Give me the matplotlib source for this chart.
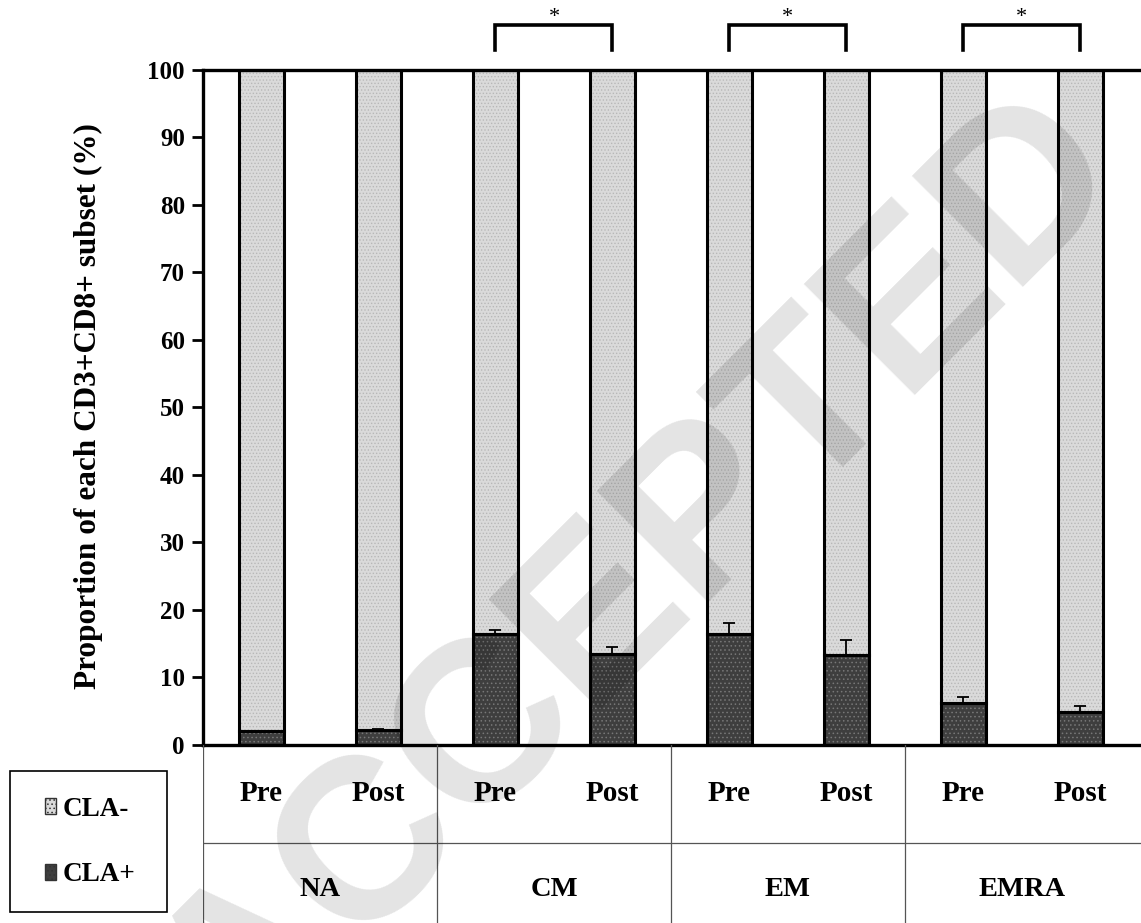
import numpy as np
import matplotlib
matplotlib.use("Agg")
import matplotlib.pyplot as plt
from matplotlib.patches import Patch, Rectangle

plt.rcParams['font.family'] = ['Liberation Serif', 'DejaVu Serif']
plt.rcParams['font.weight'] = 'bold'
plt.rcParams['hatch.linewidth'] = 0.6

groups = ['NA', 'CM', 'EM', 'EMRA']
timepoints = ['Pre', 'Post']
cla_pos = [2.1, 2.2, 16.4, 13.5, 16.4, 13.3, 6.2, 4.9]
cla_pos_err = [0.0, 0.2, 0.6, 1.0, 1.6, 2.2, 0.9, 0.9]
cla_neg = [100 - v for v in cla_pos]
sig_groups = ['CM', 'EM', 'EMRA']
yticks = list(range(0, 101, 10))

LIGHT = '#dadada'
DARK = '#3e3e3e'

fig = plt.figure(figsize=(11.41, 9.23), dpi=100)
ax = fig.add_axes([0.1779, 0.1929, 0.8203, 0.7313])
x = np.arange(len(cla_pos))
w = 0.39

# fills
ax.bar(x, cla_pos, w, color=DARK, linewidth=0, zorder=2)
ax.bar(x, cla_neg, w, bottom=cla_pos, color=LIGHT, linewidth=0, zorder=2)
# dotted texture
ax.bar(x, cla_pos, w, fill=False, hatch='....', edgecolor='#777777', linewidth=0, zorder=2.5)
ax.bar(x, cla_neg, w, bottom=cla_pos, fill=False, hatch='.....', edgecolor='#b8b8b8', linewidth=0, zorder=2.5)
# outlines
ax.bar(x, cla_pos, w, fill=False, edgecolor='black', linewidth=2.2, zorder=3)
ax.bar(x, cla_neg, w, bottom=cla_pos, fill=False, edgecolor='black', linewidth=2.2, zorder=3)

ax.errorbar(x, cla_pos, yerr=[np.zeros(len(x)), cla_pos_err], fmt='none',
            ecolor='black', elinewidth=1.3, capsize=4.5, capthick=1.3, zorder=4)

ax.set_xlim(-0.5, len(x) - 0.5)
ax.set_ylim(0, 100)
ax.set_yticks(yticks)
ax.set_yticklabels([str(t) for t in yticks], fontsize=18, fontweight='bold')
ax.set_xticks([])
ax.tick_params(axis='y', length=8, width=2, direction='out', pad=5)
for s in ['left', 'top', 'bottom']:
    ax.spines[s].set_linewidth(2.4)
ax.spines['right'].set_visible(False)
ax.set_ylabel('Proportion of each CD3+CD8+ subset (%)', fontsize=22.5,
              fontweight='bold')
ax.yaxis.set_label_coords(-0.107, 0.502)

# significance brackets
for g in sig_groups:
    i = groups.index(g) * 2
    ax.plot([i, i, i + 1, i + 1], [103, 106.7, 106.7, 103], color='black',
            linewidth=2.6, clip_on=False, solid_joinstyle='miter')
    ax.text(i + 0.5, 107.1, '*', ha='center', va='baseline', fontsize=16,
            fontweight='normal')

# table below the axis
tab = fig.add_axes([0.1779, 0.0, 0.8221, 0.1929])
tab.set_xlim(-0.5, -0.5 + 8 * 0.8221 / 0.8203)
tab.set_ylim(0, 2)
tab.axis('off')
tab.plot([-0.5, 8], [0.9, 0.9], color='#555555', linewidth=0.9)
for k in range(len(groups)):
    tab.plot([k * 2 - 0.5] * 2, [0, 2], color='#555555', linewidth=0.9)
    for j, tp in enumerate(timepoints):
        tab.text(k * 2 + j, 1.45, tp, ha='center', va='center', fontsize=21,
                 fontweight='bold')
    tab.text(k * 2 + 0.5, 0.38, groups[k], ha='center', va='center',
             fontsize=20.5, fontweight='bold')

# legend (box drawn separately)
W, H = 1141, 923
fig.patches.append(Rectangle((10 / W, 1 - 912 / H), 157 / W, 141 / H,
                             transform=fig.transFigure, fill=False,
                             edgecolor='black', linewidth=1.2))
handles = [Patch(facecolor=LIGHT, edgecolor='#333333', hatch='....', label='CLA-'),
           Patch(facecolor=DARK, edgecolor='#333333', hatch='....', label='CLA+')]
leg = fig.legend(handles=handles, loc='center', bbox_to_anchor=(90 / W, 1 - 842 / H),
                 frameon=False, fontsize=19.5,
                 handlelength=0.4, handleheight=0.55, handletextpad=0.25,
                 labelspacing=1.5, borderpad=0, borderaxespad=0)
for t in leg.get_texts():
    t.set_fontweight('bold')

# watermark
fig.text(0.561, 0.372, 'ACCEPTED', rotation=45, ha='center', va='center',
         fontsize=165, fontweight='bold', family='Liberation Sans', color='black',
         alpha=0.11, zorder=10)

fig.savefig('out.png', dpi=100)
